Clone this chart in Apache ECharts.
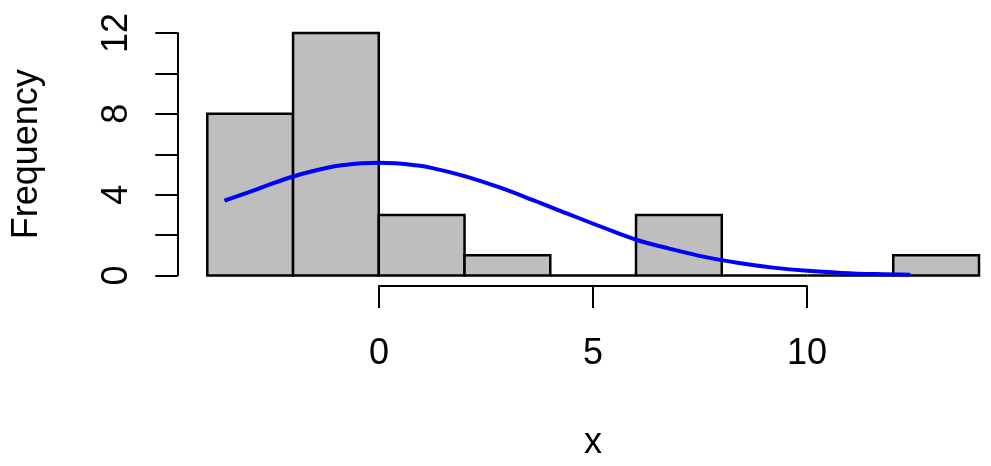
<!DOCTYPE html>
<html>
<head>
<meta charset="utf-8">
<script src="https://cdn.jsdelivr.net/npm/echarts@6/dist/echarts.min.js"></script>
<style>html,body{margin:0;padding:0;background:#fff}#c{width:991px;height:466px}</style>
</head>
<body>
<div id="c"></div>
<script>
// Histogram bins
var binStart = [-4, -2, 0, 2, 4, 6, 8, 10, 12];
var binEnd   = [-2, 0, 2, 4, 6, 8, 10, 12, 14];
var counts   = [8, 12, 3, 1, 0, 3, 0, 0, 1];
// Normal density curve
var curveX = [-3.6, -2.8, -2.0, -1.2, -0.8, -0.4, 0.0, 0.4, 0.8, 1.2, 2.0, 2.8, 3.6, 4.4, 5.2, 6.0, 6.8, 7.6, 8.4, 9.2, 10.0, 10.8, 11.6, 12.4];
var curveY = [3.70, 4.30, 4.90, 5.33, 5.47, 5.55, 5.58, 5.55, 5.47, 5.34, 4.92, 4.37, 3.73, 3.06, 2.40, 1.77, 1.32, 0.92, 0.62, 0.39, 0.23, 0.13, 0.07, 0.04];
var xTicks = [0, 5, 10];
var yTickLabels = [0, 4, 8, 12];

var FONT = 'Liberation Sans';
var histData = binStart.map(function (s, i) { return [s, binEnd[i], counts[i]]; });
var lineData = curveX.map(function (x, i) { return [x, curveY[i]]; });

var chart = echarts.init(document.getElementById('c'));
chart.setOption({
  animation: false,
  backgroundColor: '#fff',
  grid: [
    { left: 207.3, right: 12, top: 33, bottom: 190.5, outerBoundsMode: 'none', containLabel: false },
    { left: 379, width: 428, top: 100, bottom: 180, outerBoundsMode: 'none', containLabel: false }
  ],
  xAxis: [
    { gridIndex: 0, type: 'value', min: -4, max: 14, show: false, axisLine: { onZero: false } },
    {
      gridIndex: 1, type: 'value', min: xTicks[0], max: xTicks[xTicks.length - 1], interval: 5,
      position: 'bottom', z: 10,
      axisLine: { show: true, onZero: false, lineStyle: { color: '#000', width: 2 } },
      axisTick: { show: true, length: 22, lineStyle: { color: '#000', width: 2 } },
      axisLabel: { show: true, margin: 50, fontSize: 36, fontFamily: FONT, color: '#000' },
      splitLine: { show: false },
      name: 'x', nameLocation: 'middle', nameGap: 139,
      nameTextStyle: { fontSize: 36, fontFamily: FONT, color: '#000' }
    }
  ],
  yAxis: [
    {
      gridIndex: 0, type: 'value', min: 0, max: 12, interval: 2,
      offset: 30, position: 'left', z: 10,
      axisLine: { show: true, onZero: false, lineStyle: { color: '#000', width: 2 } },
      axisTick: { show: true, length: 22, lineStyle: { color: '#000', width: 2 } },
      axisLabel: {
        show: true, rotate: 90, margin: 42, fontSize: 36, fontFamily: FONT, color: '#000',
        formatter: function (v) { return yTickLabels.indexOf(v) >= 0 ? String(v) : ''; }
      },
      splitLine: { show: false },
      name: 'Frequency', nameLocation: 'middle', nameGap: 132, nameRotate: 90,
      nameTextStyle: { fontSize: 36, fontFamily: FONT, color: '#000' }
    },
    { gridIndex: 1, type: 'value', min: 0, max: 1, show: false, axisLine: { onZero: false } }
  ],
  series: [
    {
      type: 'custom',
      xAxisIndex: 0, yAxisIndex: 0,
      data: histData,
      renderItem: function (params, api) {
        var p1 = api.coord([api.value(0), api.value(2)]);
        var p2 = api.coord([api.value(1), 0]);
        return {
          type: 'rect',
          shape: { x: p1[0], y: p1[1], width: p2[0] - p1[0], height: p2[1] - p1[1] },
          style: { fill: '#BEBEBE', stroke: '#000', lineWidth: 2.5 }
        };
      },
      z: 2
    },
    {
      type: 'line',
      xAxisIndex: 0, yAxisIndex: 0,
      data: lineData,
      smooth: 0.4,
      symbol: 'none',
      lineStyle: { color: '#0000FF', width: 4 },
      z: 3
    },
    {
      type: 'line', xAxisIndex: 1, yAxisIndex: 1, data: [[0, 0]], symbol: 'none', lineStyle: { opacity: 0 }
    }
  ]
});
</script>
</body>
</html>
